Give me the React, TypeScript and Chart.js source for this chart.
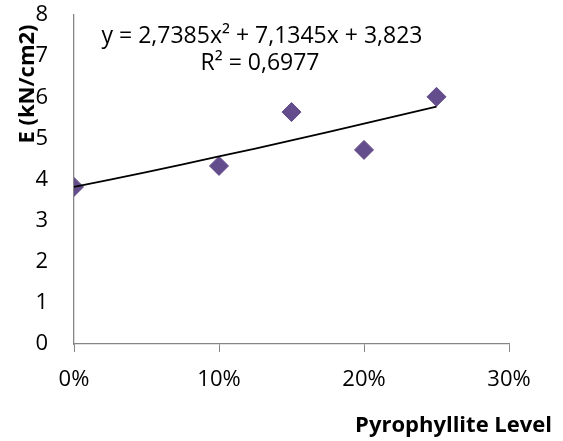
import { useEffect, useRef } from 'react'
import { Chart, registerables } from 'chart.js'

Chart.register(...registerables)

// measured points (pyrophyllite share vs E)
const levels = [0, 0.1, 0.15, 0.2, 0.25]
const eValues = [3.82, 4.33, 5.64, 4.72, 6.01]

// polynomial trendline as drawn in the picture
const trendX = [0, 0.05, 0.1, 0.15, 0.2, 0.25]
const trendY = [3.82, 4.18, 4.56, 4.95, 5.36, 5.77]

const equationLines = ['y = 2,7385x² + 7,1345x + 3,823', 'R² = 0,6977']
const yTitle = 'E (kN/cm2)'
const xTitle = 'Pyrophyllite Level'

const FONT = '"Open Sans", "Noto Sans", sans-serif'
const AXIS = '#868686'

const annotations = {
  id: 'annotations',
  afterDraw(chart: Chart) {
    const { ctx } = chart
    ctx.save()
    ctx.fillStyle = '#000'

    // trendline label
    ctx.font = `23px ${FONT}`
    ctx.textAlign = 'center'
    ctx.textBaseline = 'alphabetic'
    ctx.fillText(equationLines[0], 262, 43)
    ctx.fillText(equationLines[1], 260, 70)

    // x title, right aligned like the Excel original
    ctx.font = `bold 22px ${FONT}`
    ctx.textAlign = 'right'
    ctx.fillText(xTitle, 552, 432)

    // y title, rotated
    ctx.translate(28, 84)
    ctx.rotate(-Math.PI / 2)
    ctx.font = `bold 22px ${FONT}`
    ctx.textAlign = 'center'
    ctx.textBaseline = 'middle'
    ctx.fillText(yTitle, 0, 0)
    ctx.restore()
  },
}

export default function App() {
  const canvasRef = useRef<HTMLCanvasElement>(null)

  useEffect(() => {
    document.body.style.margin = '0'
    if (!canvasRef.current) return

    const chart = new Chart(canvasRef.current, {
      type: 'scatter',
      data: {
        datasets: [
          {
            label: 'Trend',
            type: 'line',
            data: trendX.map((x, i) => ({ x, y: trendY[i] })),
            borderColor: '#000',
            borderWidth: 1.8,
            pointRadius: 0,
            tension: 0.4,
            fill: false,
          },
          {
            label: 'E',
            data: levels.map((x, i) => ({ x, y: eValues[i] })),
            pointStyle: 'rectRot',
            pointRadius: 9.5,
            backgroundColor: '#634D8C',
            borderColor: '#634D8C',
            borderWidth: 1,
          },
        ],
      },
      options: {
        animation: false,
        responsive: false,
        layout: { padding: { left: 0, right: 54, top: 15, bottom: 0 } },
        plugins: {
          legend: { display: false },
          tooltip: { enabled: false },
        },
        scales: {
          x: {
            type: 'linear',
            min: 0,
            max: 0.3,
            afterFit: s => { s.height = 97 },
            ticks: {
              stepSize: 0.1,
              color: '#000',
              padding: 15,
              font: { family: FONT, size: 22 },
              callback: v => `${Math.round(Number(v) * 100)}%`,
            },
            grid: { drawOnChartArea: false, drawTicks: true, tickLength: 8, color: AXIS },
            border: { color: AXIS, width: 1.3 },
          },
          y: {
            min: 0,
            max: 8,
            afterFit: s => { s.width = 74 },
            ticks: {
              stepSize: 1,
              color: '#000',
              padding: 4,
              font: { family: FONT, size: 22, lineHeight: 1 },
            },
            // invisible tick marks keep the labels off the axis
            grid: { drawOnChartArea: false, drawTicks: true, tickLength: 22, color: 'rgba(0,0,0,0)' },
            border: { color: AXIS, width: 1.3 },
          },
        },
      },
      plugins: [annotations],
    })

    return () => chart.destroy()
  }, [])

  return (
    <div style={{ width: 563, height: 441, background: '#fff' }}>
      <canvas ref={canvasRef} width={563} height={441} />
    </div>
  )
}
